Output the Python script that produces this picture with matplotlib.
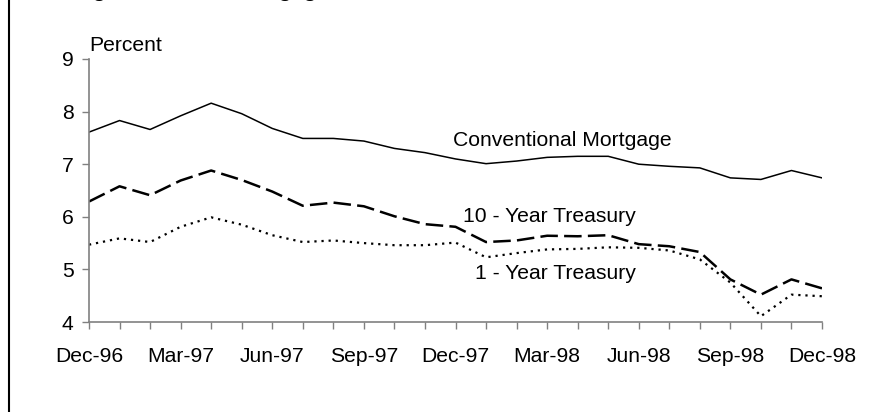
import matplotlib.pyplot as plt
from matplotlib.lines import Line2D

# monthly averages, Dec-96 .. Dec-98
meses = ["Dec-96", "Jan-97", "Feb-97", "Mar-97", "Apr-97", "May-97", "Jun-97",
         "Jul-97", "Aug-97", "Sep-97", "Oct-97", "Nov-97", "Dec-97", "Jan-98",
         "Feb-98", "Mar-98", "Apr-98", "May-98", "Jun-98", "Jul-98", "Aug-98",
         "Sep-98", "Oct-98", "Nov-98", "Dec-98"]
hipoteca = [7.61, 7.83, 7.66, 7.92, 8.16, 7.96, 7.68, 7.49, 7.49, 7.44, 7.30, 7.22, 7.10,
            7.01, 7.06, 7.13, 7.15, 7.15, 7.00, 6.96, 6.93, 6.74, 6.71, 6.88, 6.74]
tesouro_10 = [6.29, 6.58, 6.41, 6.69, 6.88, 6.70, 6.48, 6.21, 6.27, 6.20, 6.01, 5.86, 5.81,
              5.52, 5.55, 5.64, 5.63, 5.65, 5.48, 5.44, 5.33, 4.81, 4.52, 4.81, 4.64]
tesouro_1 = [5.47, 5.59, 5.52, 5.81, 5.99, 5.85, 5.65, 5.52, 5.55, 5.50, 5.46, 5.46, 5.51,
             5.23, 5.31, 5.38, 5.39, 5.42, 5.41, 5.36, 5.19, 4.75, 4.11, 4.52, 4.49]
rotulos_y = [4, 5, 6, 7, 8, 9]

plt.rcParams['font.family'] = ['Liberation Sans', 'DejaVu Sans']
tam = 15.2

fig = plt.figure(figsize=(8.84, 4.12), dpi=100)
ax = fig.add_axes([89 / 884, 1 - 322 / 412, 733 / 884, 263 / 412])

x = list(range(len(meses)))
ax.plot(x, hipoteca, color="black", linewidth=1.1)
ax.plot(x, tesouro_10, color="black", linewidth=1.8, linestyle=(0, (7, 2.5)))
ax.plot(x, tesouro_1, color="black", linewidth=1.6, linestyle=(0, (1, 2.2)))

ax.set_xlim(0, len(meses) - 1)
ax.set_ylim(4, 9)
ax.set_xticks(x)
ax.set_xticklabels([m if i % 3 == 0 else "" for i, m in enumerate(meses)], fontsize=tam)
ax.set_yticks(rotulos_y)
ax.set_yticklabels([str(v) for v in rotulos_y], fontsize=tam)
ax.tick_params(axis="both", direction="out", length=5, width=1, color="#808080")
ax.tick_params(axis="x", pad=13)
ax.tick_params(axis="y", pad=6)

for lado in ["top", "right"]:
    ax.spines[lado].set_visible(False)
for lado in ["left", "bottom"]:
    ax.spines[lado].set_color("#808080")
    ax.spines[lado].set_linewidth(1.2)

ax.text(0, 1 + 8 / 263, "Percent", transform=ax.transAxes, fontsize=tam, va="baseline", ha="left")
ax.text(15.5, 7.46, "Conventional Mortgage", fontsize=tam, ha="center", va="center")
ax.text(12.25, 6.0, "10 - Year Treasury", fontsize=tam, ha="left", va="center")
ax.text(12.64, 4.93, "1 - Year Treasury", fontsize=tam, ha="left", va="center")

# title cut at the top of the picture, only descenders show
fig.text(74 / 884, 1 + 3 / 412, "Figure 3: Fixed Mortgage Rates", fontsize=15.4,
         fontweight="bold", va="baseline", ha="left")

# left frame line
fig.add_artist(Line2D([8.5 / 884, 8.5 / 884], [0, 1], color="black", linewidth=1.5,
                      transform=fig.transFigure))

fig.savefig("out.png", dpi=100)
